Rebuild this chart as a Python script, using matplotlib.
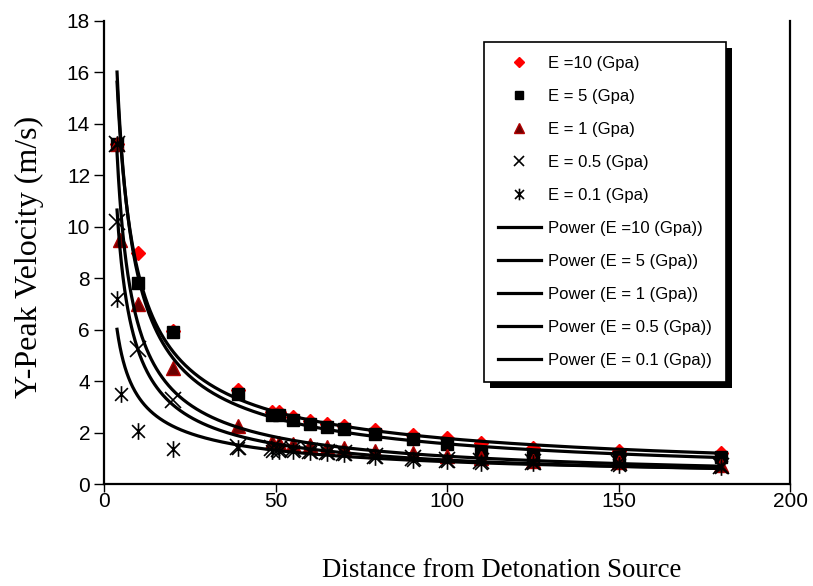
import numpy as np
import matplotlib
matplotlib.use("Agg")
import matplotlib.pyplot as plt
from matplotlib.path import Path
from matplotlib.patches import Rectangle
from matplotlib.transforms import IdentityTransform

# ---------------- data ----------------
x_e10 = [3.8, 10, 20, 39, 49, 51, 55, 60, 65, 70, 79, 90, 100, 110, 125, 150, 180]
y_e10 = [13.2, 9.0, 5.95, 3.65, 2.8, 2.8, 2.6, 2.45, 2.35, 2.25, 2.1, 1.9, 1.8, 1.6, 1.4, 1.3, 1.2]

x_e5 = [3.8, 10, 20, 39, 49, 51, 55, 60, 65, 70, 79, 90, 100, 110, 125, 150, 180]
y_e5 = [13.2, 7.8, 5.9, 3.5, 2.7, 2.7, 2.5, 2.35, 2.2, 2.15, 1.95, 1.75, 1.55, 1.25, 1.05, 1.05, 1.05]

x_e1 = [3.8, 4.8, 10, 20, 39, 49, 51, 55, 60, 65, 70, 79, 90, 100, 110, 125, 150, 180]
y_e1 = [13.2, 9.5, 7.0, 4.5, 2.25, 1.65, 1.6, 1.55, 1.5, 1.45, 1.4, 1.3, 1.2, 1.1, 1.0, 0.9, 0.85, 0.75]

x_e05 = [3.8, 3.8, 10, 20, 39, 49, 51, 55, 60, 65, 70, 79, 90, 100, 110, 125, 150, 180]
y_e05 = [13.2, 10.2, 5.25, 3.25, 1.45, 1.4, 1.35, 1.35, 1.3, 1.25, 1.2, 1.1, 1.0, 0.95, 0.9, 0.85, 0.8, 0.7]

x_e01 = [3.8, 3.8, 5, 10, 20, 39, 49, 51, 55, 60, 65, 70, 79, 90, 100, 110, 125, 150, 180]
y_e01 = [13.2, 7.2, 3.5, 2.05, 1.35, 1.4, 1.3, 1.3, 1.3, 1.25, 1.2, 1.15, 1.05, 0.95, 0.9, 0.8, 0.8, 0.75, 0.65]

point_labels = ["E =10 (Gpa)", "E = 5 (Gpa)", "E = 1 (Gpa)", "E = 0.5 (Gpa)", "E = 0.1 (Gpa)"]
fit_labels = ["Power (E =10 (Gpa))", "Power (E = 5 (Gpa))", "Power (E = 1 (Gpa))",
              "Power (E = 0.5 (Gpa))", "Power (E = 0.1 (Gpa))"]

x_ticks = [0, 50, 100, 150, 200]
y_ticks = [0, 2, 4, 6, 8, 10, 12, 14, 16, 18]

# ---------------- styling ----------------
plt.rcParams['font.family'] = ['Liberation Sans', 'DejaVu Sans']

asterisk = Path([(-1, -1), (1, 1), (-1, 1), (1, -1), (0, -1.3), (0, 1.3)],
                [Path.MOVETO, Path.LINETO, Path.MOVETO, Path.LINETO, Path.MOVETO, Path.LINETO])

styles = [
    dict(marker='D', color='#ff0000', markersize=7.5, markeredgecolor='#ff0000', linestyle='none'),
    dict(marker='s', color='black', markersize=8, markeredgecolor='black', linestyle='none'),
    dict(marker='^', color='#6b0000', markersize=9.5, markeredgecolor='#b00000', markeredgewidth=1, linestyle='none'),
    dict(marker='x', color='black', markersize=11, markeredgewidth=1.2, linestyle='none'),
    dict(marker=asterisk, color='black', markersize=12, markeredgewidth=1.2, linestyle='none'),
]

fig = plt.figure(figsize=(8.13, 5.86), dpi=100)
ax = fig.add_axes([104 / 813, 1 - 484 / 586, 686 / 813, 463 / 586])

series = [(x_e10, y_e10), (x_e5, y_e5), (x_e1, y_e1), (x_e05, y_e05), (x_e01, y_e01)]

point_handles = []
for (xs, ys), st, lab in zip(series, styles, point_labels):
    h, = ax.plot(xs, ys, label=lab, zorder=3, **st)
    point_handles.append(h)

fit_handles = []
for (xs, ys), lab in zip(series, fit_labels):
    xs = np.asarray(xs, float)
    ys = np.asarray(ys, float)
    b, ln_a = np.polyfit(np.log(xs), np.log(ys), 1)
    xx = np.geomspace(xs.min(), xs.max(), 300)
    h, = ax.plot(xx, np.exp(ln_a) * xx ** b, color='black', lw=2.3, label=lab, zorder=4)
    fit_handles.append(h)

ax.set_xlim(0, 200)
ax.set_ylim(0, 18)
ax.set_xticks(x_ticks)
ax.set_yticks(y_ticks)
ax.tick_params(axis='both', direction='out', length=6, width=1, labelsize=15, colors='black')
ax.tick_params(axis='x', pad=0)
ax.tick_params(axis='y', pad=3, length=7)
for s in ['left', 'bottom', 'right']:
    ax.spines[s].set_linewidth(1.6)
ax.spines['top'].set_visible(False)

ax.set_xlabel("Distance from Detonation Source", family=['Liberation Serif'], fontsize=19.3)
ax.xaxis.set_label_coords(0.579, -0.160)
ax.set_ylabel("Y-Peak Velocity (m/s)", family=['Liberation Serif'], fontsize=23)
ax.yaxis.set_label_coords(-0.087, 0.491)

leg = ax.legend(handles=point_handles + fit_handles, loc='upper left',
                bbox_to_anchor=((484 - 104) / 686, (484 - 42) / 463),
                fontsize=12, frameon=True, fancybox=False, edgecolor='black',
                facecolor='white', framealpha=1,
                handlelength=2.55, handletextpad=0.45, labelspacing=1.08,
                borderpad=0.85, borderaxespad=0, markerscale=0.7)
leg.get_frame().set_linewidth(1.2)
leg.set_zorder(10)

fig.canvas.draw()
bb = leg.get_window_extent()
shadow = Rectangle((bb.x0 + 6, bb.y0 - 6), bb.width, bb.height, transform=IdentityTransform(),
                   facecolor='black', edgecolor='none', zorder=9, clip_on=False)
ax.add_artist(shadow)

fig.savefig("out.png", dpi=100)
